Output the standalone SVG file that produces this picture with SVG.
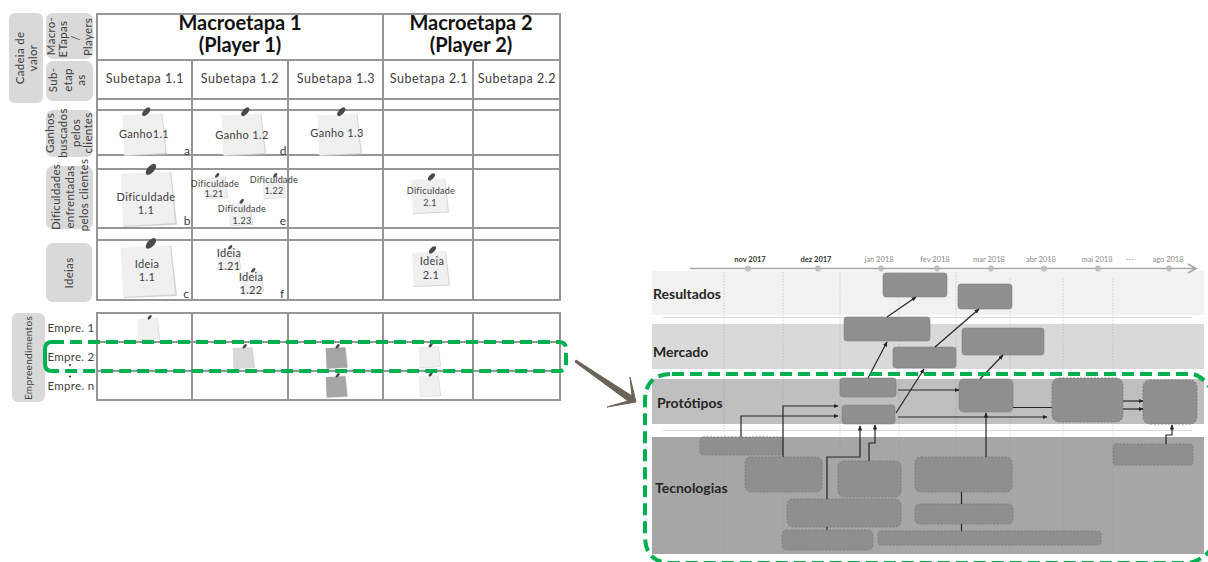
<svg xmlns="http://www.w3.org/2000/svg" width="1208" height="562" viewBox="0 0 1208 562">
<style>
text{font-family:"Lato","Open Sans","Liberation Sans",sans-serif;fill:#404040;text-anchor:middle}
.t{font-size:20px;font-weight:700;fill:#111}
.s{font-size:12.5px;letter-spacing:.55px;fill:#404040}
.l{font-size:11.5px;letter-spacing:.3px;fill:#404040}
.n{font-size:11px;letter-spacing:.35px;fill:#404040}
.ns{font-size:9px;letter-spacing:.3px;fill:#404040}
.m{font-size:12px;fill:#404040}
.g{stroke:#969696;stroke-width:2;fill:none}
.side{fill:#d9d9d9}
.band-t{font-size:14px;font-weight:700;fill:#262626;text-anchor:start}
.d{font-size:7.5px;fill:#8a8a8a}
.db{font-size:7.5px;font-weight:700;fill:#333}
.b{fill:#8f8f8f;stroke:#828282;stroke-width:.6}
.bd{fill:#8f8f8f;stroke:#7c7c7c;stroke-width:1;stroke-dasharray:2 1.5}
.c{stroke:#262626;stroke-width:1.2;fill:none}
.ca{stroke:#262626;stroke-width:1.2;fill:none;marker-end:url(#a)}
.gv{stroke:#8f8f8f;stroke-opacity:.55;stroke-width:.7;stroke-dasharray:1.5 1.5;fill:none}
.gd{stroke:#00b050;stroke-width:4;stroke-dasharray:12 6;fill:none}
</style>
<defs>
<marker id="a" markerWidth="7" markerHeight="6" refX="4.500" refY="2.200" orient="auto" markerUnits="userSpaceOnUse"><path d="M0 0L5 2.200L0 4.400z" fill="#262626"/></marker>
<g id="note">
<path d="M6 6L90 2L100 96L8 100z" fill="#d2d2d2"/>
<path d="M3 5L88 1L97 93L7 98z"/>
<ellipse cx="55" cy="-3" rx="12" ry="6" transform="rotate(-50 55 -3)" fill="#4a4a4a"/>
</g>
</defs>

<g id="side-labels">
<g id="side-cadeia"><rect class="side" x="9" y="13" width="34" height="90" rx="6"/><text class="l" transform="translate(24 58) rotate(-90)">Cadeia de</text><text class="l" transform="translate(37 58) rotate(-90)">valor</text></g>
<g id="side-macro"><rect class="side" x="46" y="13" width="47" height="46" rx="7"/><text class="l" transform="translate(55 36) rotate(-90)">Macro-</text><text class="l" transform="translate(67 39) rotate(-90)">ETapas</text><text class="l" transform="translate(80 38) rotate(-90)">/</text><text class="l" transform="translate(92 37) rotate(-90)">Players</text></g>
<g id="side-sub"><rect class="side" x="46" y="61" width="47" height="40" rx="7"/><text class="l" transform="translate(57 80) rotate(-90)">Sub-</text><text class="l" transform="translate(72 80) rotate(-90)">etap</text><text class="l" transform="translate(85 80) rotate(-90)">as</text></g>
<g id="side-ganhos"><rect class="side" x="46" y="110" width="47" height="47" rx="7"/><text class="l" transform="translate(54 133) rotate(-90)">Ganhos</text><text class="l" transform="translate(67 133) rotate(-90)">buscados</text><text class="l" transform="translate(80 133) rotate(-90)">pelos</text><text class="l" transform="translate(92 133) rotate(-90)">clientes</text></g>
<g id="side-dificuldades"><rect class="side" x="46" y="166" width="47" height="63" rx="7"/><text class="l" transform="translate(60 197) rotate(-90)">Dificuldades</text><text class="l" transform="translate(74 197) rotate(-90)">enfrentadas</text><text class="l" transform="translate(88 195) rotate(-90)">pelos clientes</text></g>
<g id="side-ideias"><rect class="side" x="46" y="243" width="46" height="59" rx="7"/><text class="l" transform="translate(73 273) rotate(-90)">Ideias</text></g>
<g id="side-empreendimentos"><rect class="side" x="12" y="313" width="33" height="89" rx="6"/><text class="l" style="font-size:10px" transform="translate(32 358) rotate(-90)">Empreendimentos</text></g>
</g>

<g id="table-grid">
<path class="g" d="M97 14H560V300H97ZM97 60H560M97 99H560M97 110H560M97 155H560M97 169H560M97 228H560M97 240H560M192 60V300M288 60V300M383 14V300M473 60V300"/>
<path class="g" d="M97 313H560V400H97ZM97 342H560M97 371H560M192 313V400M288 313V400M383 313V400M473 313V400"/>
</g>

<g id="headers">
<g id="macro1"><text class="t" x="240" y="30">Macroetapa 1</text><text class="t" x="240" y="52">(Player 1)</text></g>
<g id="macro2"><text class="t" x="471" y="30">Macroetapa 2</text><text class="t" x="471" y="52">(Player 2)</text></g>
<text class="s" x="145" y="83">Subetapa 1.1</text>
<text class="s" x="240" y="83">Subetapa 1.2</text>
<text class="s" x="336" y="83">Subetapa 1.3</text>
<text class="s" x="429" y="83">Subetapa 2.1</text>
<text class="s" x="517" y="83">Subetapa 2.2</text>
</g>

<g id="notes">
<g id="ganho11"><use href="#note" fill="#f0f0f0" transform="translate(121 113) scale(.46 .43)"/><text class="n" x="144" y="138">Ganho1.1</text><text class="m" x="187" y="155">a</text></g>
<g id="ganho12"><use href="#note" fill="#f0f0f0" transform="translate(220 113) scale(.46 .43)"/><text class="n" x="242" y="139">Ganho 1.2</text><text class="m" x="283" y="155">d</text></g>
<g id="ganho13"><use href="#note" fill="#f0f0f0" transform="translate(316 113) scale(.46 .43)"/><text class="n" x="337" y="137">Ganho 1.3</text></g>
<g id="dif11"><use href="#note" fill="#f0f0f0" transform="translate(119 171) scale(.58 .56)"/><text class="n" x="146" y="201">Dificuldade</text><text class="n" x="146" y="214">1.1</text><text class="m" x="187" y="225">b</text></g>
<g id="dif121"><use href="#note" fill="#f0f0f0" transform="translate(204 176) scale(.24 .23)"/><text class="ns" x="215" y="187">Dificuldade</text><text class="ns" x="214" y="197">1.21</text></g>
<g id="dif122"><use href="#note" fill="#f0f0f0" transform="translate(262 176) scale(.24 .23)"/><text class="ns" x="274" y="183">Dificuldade</text><text class="ns" x="274" y="194">1.22</text></g>
<g id="dif123"><use href="#note" fill="#f0f0f0" transform="translate(228 202) scale(.25 .24)"/><text class="ns" x="242" y="212">Dificuldade</text><text class="ns" x="242" y="224">1.23</text><text class="m" x="283" y="225">e</text></g>
<g id="dif21"><use href="#note" fill="#f0f0f0" transform="translate(410 178) scale(.39 .36)"/><text class="ns" x="431" y="194">Dificuldade</text><text class="ns" x="430" y="206">2.1</text></g>
<g id="ideia11"><use href="#note" fill="#f0f0f0" transform="translate(119 245) scale(.58 .53)"/><text class="n" x="147" y="268">Ideia</text><text class="n" x="147" y="281">1.1</text><text class="m" x="186" y="298">c</text></g>
<g id="ideia121"><use href="#note" fill="#f0f0f0" transform="translate(217 248) scale(.24 .22)"/><text class="n" x="229" y="257">Ideia</text><text class="n" x="229" y="270">1.21</text></g>
<g id="ideia122"><use href="#note" fill="#f0f0f0" transform="translate(240 271) scale(.24 .22)"/><text class="n" x="251" y="281">Ideia</text><text class="n" x="251" y="294">1.22</text><text class="m" x="282" y="298">f</text></g>
<g id="ideia21"><use href="#note" fill="#f0f0f0" transform="translate(411 251) scale(.39 .36)"/><text class="n" x="432" y="265">Ideia</text><text class="n" x="431" y="279">2.1</text></g>
<g id="sm1"><use href="#note" fill="#f0f0f0" transform="translate(137 318) scale(.23 .22)"/></g>
<g id="sm2"><use href="#note" fill="#d9d9d9" transform="translate(232 347) scale(.23 .22)"/></g>
<g id="sm3"><use href="#note" fill="#a6a6a6" transform="translate(325 347) scale(.23 .22)"/></g>
<g id="sm4"><use href="#note" fill="#a6a6a6" transform="translate(325 376) scale(.23 .22)"/></g>
<g id="sm5"><use href="#note" fill="#f0f0f0" transform="translate(418 346) scale(.23 .22)"/></g>
<g id="sm6"><use href="#note" fill="#f0f0f0" transform="translate(418 375) scale(.23 .22)"/></g>
</g>

<g id="empre-labels">
<text class="l" x="71" y="332">Empre. 1</text>
<text class="l" x="71" y="361">Empre. 2</text>
<text class="l" x="71" y="390">Empre. n</text>
<path d="M70 365v.1M70 371v.1M70 376.500v.1" stroke="#222" stroke-width="2" stroke-linecap="round"/>
</g>

<g id="bands">
<rect x="652" y="271" width="552" height="44" fill="#f2f2f2"/>
<rect x="652" y="324" width="552" height="45" fill="#d9d9d9"/>
<rect x="652" y="379" width="552" height="45" fill="#bfbfbf"/>
<rect x="652" y="437" width="552" height="117" fill="#a6a6a6"/>
<path d="M663 317.500H1192M663 430.500H1192" stroke="#dcdcdc" stroke-width="1"/>
<path class="gv" d="M724 272V554M783 272V554M840 272V554M899 272V554M956 272V554M1010 278V554M1063 278V554M1113 278V554"/>
<text class="band-t" x="653" y="299">Resultados</text>
<text class="band-t" x="653" y="357">Mercado</text>
<text class="band-t" x="657" y="408">Protótipos</text>
<text class="band-t" x="655" y="493">Tecnologias</text>
</g>

<g id="timeline">
<path d="M690 268.500H1195M1188 264L1196 268.500L1188 273" stroke="#a6a6a6" stroke-width="1.600" fill="none"/>
<g fill="#bfbfbf"><circle cx="748" cy="268.500" r="3"/><circle cx="818" cy="268.500" r="3"/><circle cx="881" cy="268.500" r="3"/><circle cx="937" cy="268.500" r="3"/><circle cx="991" cy="268.500" r="3"/><circle cx="1044" cy="268.500" r="3"/><circle cx="1098" cy="268.500" r="3"/><circle cx="1169" cy="268.500" r="3"/></g>
<text class="db" x="750" y="262">nov 2017</text>
<text class="db" x="816" y="262">dez 2017</text>
<text class="d" x="879" y="262">jan 2018</text>
<text class="d" x="935" y="262">fev  2018</text>
<text class="d" x="989" y="262">mar 2018</text>
<text class="d" x="1041" y="262">abr 2018</text>
<text class="d" x="1097" y="262">mai 2018</text>
<text class="d" x="1130" y="262">---</text>
<text class="d" x="1168" y="262">ago 2018</text>
</g>

<g id="boxes">
<rect id="r1" class="b" x="883" y="273" width="64" height="24" rx="3"/>
<rect id="r2" class="b" x="958" y="284" width="54" height="25" rx="3"/>
<rect id="m1" class="b" x="844" y="317" width="86" height="24" rx="3"/>
<rect id="m2" class="b" x="893" y="347" width="63" height="21" rx="3"/>
<rect id="m3" class="b" x="962" y="328" width="82" height="27" rx="3"/>
<rect id="p1" class="b" x="840" y="378" width="56" height="19" rx="3"/>
<rect id="p2" class="b" x="842" y="405" width="53" height="19" rx="3"/>
<rect id="p3" class="b" x="959" y="379" width="54" height="33" rx="5"/>
<rect id="p4" class="bd" x="1052" y="378" width="71" height="44" rx="7"/>
<rect id="p5" class="bd" x="1143" y="380" width="54" height="44" rx="7"/>
<rect id="t1" class="bd" x="700" y="437" width="83" height="18" rx="3"/>
<rect id="t2" class="bd" x="745" y="457" width="77" height="35" rx="6"/>
<rect id="t3" class="bd" x="838" y="461" width="63" height="36" rx="6"/>
<rect id="t4" class="bd" x="915" y="457" width="97" height="35" rx="6"/>
<rect id="t5" class="bd" x="787" y="499" width="114" height="28" rx="6"/>
<rect id="t6" class="bd" x="915" y="504" width="98" height="20" rx="5"/>
<rect id="t7" class="bd" x="782" y="530" width="91" height="20" rx="5"/>
<rect id="t8" class="bd" x="878" y="531" width="223" height="14" rx="3"/>
<rect id="t9" class="bd" x="1113" y="444" width="80" height="21" rx="3"/>
</g>

<g id="connectors">
<path class="ca" d="M868 378L887 342"/>
<path class="ca" d="M887 317L916 297"/>
<path class="ca" d="M896 413L924 369"/>
<path class="ca" d="M935 347L979 309"/>
<path class="ca" d="M980 379L1003 355"/>
<path class="ca" d="M898 390H959"/>
<path class="ca" d="M898 417H1047"/>
<path class="c" d="M1013 407.500H1052"/>
<path class="ca" d="M1123 401H1143"/>
<path class="ca" d="M1123 409H1143"/>
<path class="ca" d="M741 437V416H838"/>
<path class="ca" d="M783 457V406H838"/>
<path class="ca" d="M827 499V457H860V426"/>
<path class="ca" d="M869 461V443H875V425"/>
<path class="c" d="M827 527V530"/>
<path class="ca" d="M986 457V413"/>
<path class="c" d="M961.500 492V504M961.500 524V531"/>
<path class="ca" d="M1166 444V435H1172V425"/>
</g>

<path id="big-arrow" d="M576 360L632 396L630 377L636 402L607 407L628 401L575 362Z" fill="#6b6359" stroke="#6b6359" stroke-width="1" stroke-linejoin="round"/>
<g id="highlights">
<path class="gd" d="M52 342H559Q566 342 566 349V364Q566 371 559 371H52"/>
<path d="M52 342Q45 342 45 349V364Q45 371 52 371" fill="none" stroke="#00b050" stroke-width="4"/>
<path class="gd" d="M672 374H1193Q1203 376 1213 392V545Q1207 558 1190 563H672Q645 563 645 536V401Q645 374 672 374Z"/>
</g>
</svg>
